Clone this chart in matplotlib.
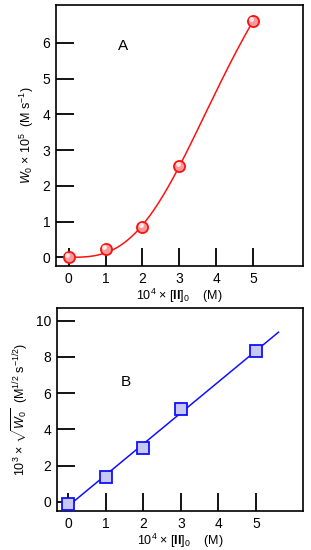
import numpy as np
import matplotlib
matplotlib.use("Agg")
import matplotlib.pyplot as plt

plt.rcParams['font.family'] = ['Liberation Sans', 'DejaVu Sans']
plt.rcParams['mathtext.fontset'] = 'custom'
plt.rcParams['mathtext.rm'] = 'Liberation Sans'
plt.rcParams['mathtext.it'] = 'Liberation Sans:italic'
plt.rcParams['mathtext.bf'] = 'Liberation Sans:bold'

# data
conc = [0, 1, 2, 3, 5]
rate_a = [0.0, 0.22, 0.85, 2.55, 6.6]
sqrt_b = [-0.1, 1.35, 3.0, 5.15, 8.3]
xticks = [0, 1, 2, 3, 4, 5]


def hill_fit(x, y):
    # least squares Hill curve (grid over n, K; V solved linearly)
    x = np.asarray(x, float)
    y = np.asarray(y, float)
    best = None
    for n in np.linspace(1.5, 4.5, 61):
        for k in np.linspace(2.5, 8.0, 111):
            f = x**n / (k**n + x**n)
            v = (f @ y) / (f @ f)
            err = np.sum((v * f - y) ** 2)
            if best is None or err < best[0]:
                best = (err, v, k, n)
    _, v, k, n = best
    return lambda t: v * t**n / (k**n + t**n)


fig = plt.figure(figsize=(3.11, 5.5), dpi=100)
ax1 = fig.add_axes([0.18, 0.516, 0.794, 0.475])
ax2 = fig.add_axes([0.183, 0.071, 0.791, 0.369])


def style(ax):
    for s in ax.spines.values():
        s.set_linewidth(1.2)
    ax.tick_params(direction='in', length=13, width=1.3, labelsize=10, pad=4)
    ax.set_xticks(xticks)


# panel A: fitted curve
curve = hill_fit(conc, rate_a)
xs = np.linspace(0, 5.05, 200)
ax1.plot(xs, curve(xs), color='#ff1010', lw=1.1, zorder=2)
ax1.plot(conc, rate_a, 'o', ms=8, mfc='#f59a9a', mec='#ff1010', mew=1.3, zorder=3)
ax1.plot(np.array(conc) - 0.04, np.array(rate_a) + 0.06, 'o', ms=3.5,
         mfc='white', mec='none', alpha=0.8, zorder=4)
ax1.set_xlim(-0.35, 6.36)
ax1.set_ylim(-0.25, 7.06)
ax1.set_yticks(range(7))
style(ax1)
ax1.set_ylabel(r'$\it{W}_0$ $\times$ 10$^5$  (M s$^{-1}$)', fontsize=9, labelpad=5)
ax1.set_xlabel(r'10$^4$ $\times$ [$\mathbf{II}$]$_0$    (M)', fontsize=9, labelpad=1)
ax1.text(1.47, 5.9, 'A', fontsize=11, ha='center', va='center')

# panel B: linear fit
c1 = np.polyfit(conc, sqrt_b, 1)
xl = np.linspace(0, 5.6, 50)
ax2.plot(xl, np.polyval(c1, xl), color='#1010ff', lw=1.1, zorder=2)
ax2.plot(conc, sqrt_b, 's', ms=8, mfc='#c8c8f4', mec='#1010ff', mew=1.3, zorder=3)
ax2.set_xlim(-0.3, 6.25)
ax2.set_ylim(-0.5, 10.7)
ax2.set_yticks([0, 2, 4, 6, 8, 10])
style(ax2)
ax2.set_ylabel(r'10$^3$ $\times$ $\sqrt{\it{W}_0}$  (M$^{1/2}$ s$^{-1/2}$)', fontsize=9, labelpad=4)
ax2.set_xlabel(r'10$^4$ $\times$ [$\mathbf{II}$]$_0$    (M)', fontsize=9, labelpad=1)
ax2.text(1.54, 6.6, 'B', fontsize=11, ha='center', va='center')

fig.savefig('out.png', dpi=100)
